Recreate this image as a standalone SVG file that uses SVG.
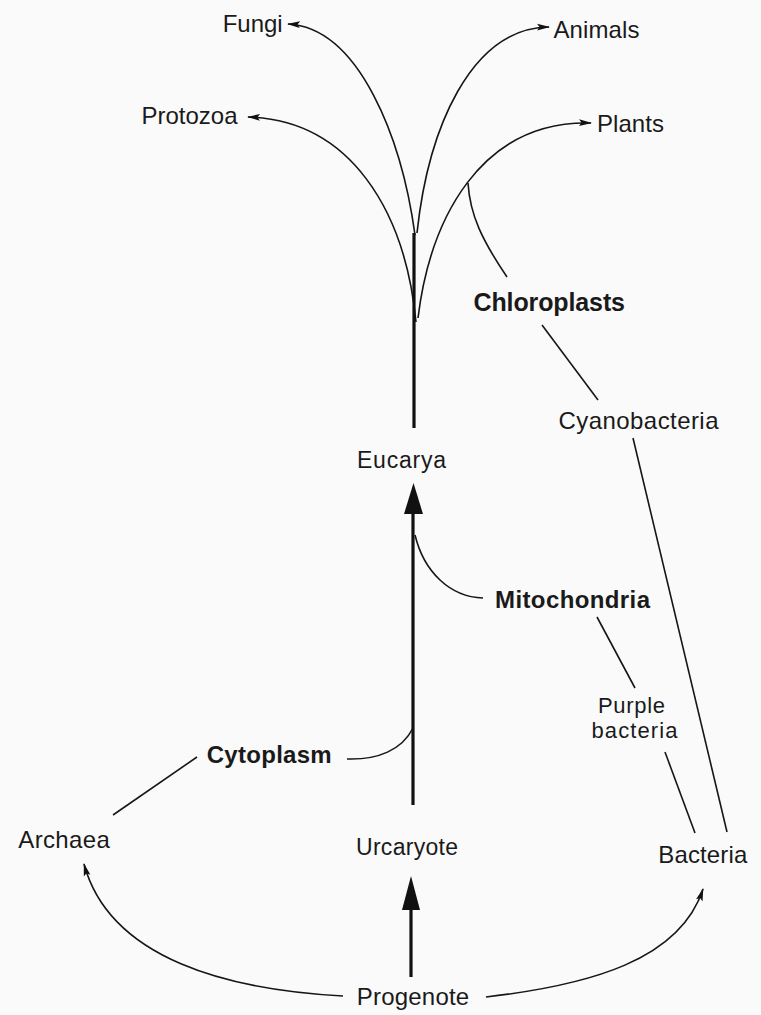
<svg xmlns="http://www.w3.org/2000/svg" width="761" height="1015" viewBox="0 0 761 1015">
  <style>
    .lbl { font-family: "Liberation Sans", Arial, sans-serif; font-size: 24px; fill: #1a1a1a; }
    .bold { font-weight: bold; }
    .ln { fill: none; stroke: #161616; stroke-width: 1.6; }
    .thick { fill: none; stroke: #111; stroke-width: 3.2; }
    .head { fill: #111; stroke: none; }
  </style>
  <defs>
    <marker id="arr" markerUnits="userSpaceOnUse" markerWidth="13" markerHeight="8" refX="12" refY="4" orient="auto">
      <path d="M0,0.6 L13,4 L0,7.4 L2.5,4 z" fill="#111"/>
    </marker>
  </defs>
  <rect x="0" y="0" width="761" height="1015" fill="#fafafa"/>

  <g id="connectors">
    <!-- fan at top -->
    <path class="ln" d="M415,235 C402,140 360,28 288,24" marker-end="url(#arr)"/>
    <path class="ln" d="M417,233 C428,130 470,28 549,27" marker-end="url(#arr)"/>
    <path class="ln" d="M416,322 C405,210 350,120 248,117" marker-end="url(#arr)"/>
    <path class="ln" d="M418,318 C430,220 480,120 591,123" marker-end="url(#arr)"/>
    <!-- trunk -->
    <line class="thick" x1="414" y1="233" x2="414" y2="428"/>
    <!-- chloroplast branch -->
    <path class="ln" d="M468,183 C470,215 482,240 507,277"/>
    <line class="ln" x1="542" y1="325" x2="598" y2="400"/>
    <line class="ln" x1="633" y1="438" x2="727" y2="832"/>
    <!-- Eucarya arrow -->
    <line class="thick" x1="413" y1="505" x2="413" y2="805"/>
    <polygon class="head" points="413.5,483 404,514 423,514"/>
    <!-- mitochondria -->
    <path class="ln" d="M415,535 C424,572 450,597 483,598"/>
    <line class="ln" x1="597" y1="617" x2="635" y2="688"/>
    <line class="ln" x1="665" y1="752" x2="695" y2="833"/>
    <!-- cytoplasm -->
    <path class="ln" d="M413,728 C402,750 378,760 347,759"/>
    <line class="ln" x1="197" y1="757" x2="113" y2="815"/>
    <!-- Urcaryote arrow -->
    <line class="thick" x1="411" y1="900" x2="411" y2="977"/>
    <polygon class="head" points="411,876 402,910 420,910"/>
    <!-- Progenote curves -->
    <path class="ln" d="M343,996 C230,990 110,960 84,864" marker-end="url(#arr)"/>
    <path class="ln" d="M486,997 C590,985 680,960 703,889" marker-end="url(#arr)"/>
  </g>

  <g id="fungi"><text class="lbl" x="222.7" y="32" textLength="60">Fungi</text></g>
  <g id="animals"><text class="lbl" x="553.5" y="38" textLength="86">Animals</text></g>
  <g id="protozoa"><text class="lbl" x="141.5" y="124" textLength="96">Protozoa</text></g>
  <g id="plants"><text class="lbl" x="597" y="131.5" textLength="67">Plants</text></g>
  <g id="chloroplasts"><text class="lbl bold" x="473.5" y="310.5" style="font-size:25px" textLength="151.5">Chloroplasts</text></g>
  <g id="cyanobacteria"><text class="lbl" x="558.5" y="429" textLength="160">Cyanobacteria</text></g>
  <g id="eucarya"><text class="lbl" x="357" y="468" style="font-size:23px" textLength="89">Eucarya</text></g>
  <g id="mitochondria"><text class="lbl bold" x="495" y="608" textLength="155">Mitochondria</text></g>
  <g id="purple-bacteria">
    <text class="lbl" x="598" y="713" style="font-size:22px" textLength="67">Purple</text>
    <text class="lbl" x="591.5" y="738" style="font-size:22px" textLength="86">bacteria</text>
  </g>
  <g id="cytoplasm"><text class="lbl bold" x="206.7" y="763" textLength="125">Cytoplasm</text></g>
  <g id="archaea"><text class="lbl" x="18.3" y="848" textLength="91.5">Archaea</text></g>
  <g id="urcaryote"><text class="lbl" x="356" y="855" style="font-size:23px" textLength="102">Urcaryote</text></g>
  <g id="bacteria"><text class="lbl" x="658.3" y="863" textLength="89">Bacteria</text></g>
  <g id="progenote"><text class="lbl" x="356.7" y="1005" textLength="112.5">Progenote</text></g>
</svg>
